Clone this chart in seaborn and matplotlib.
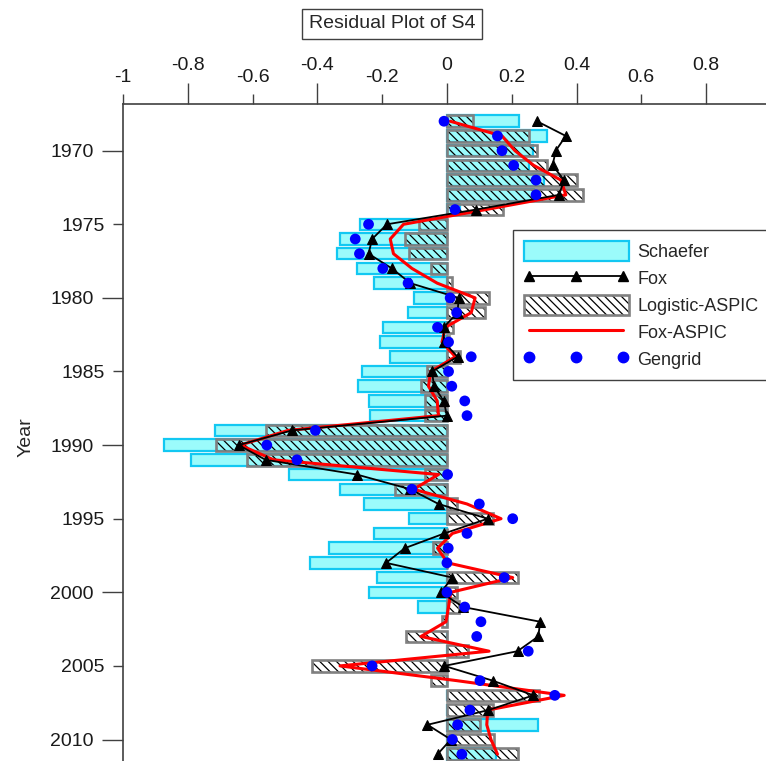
import matplotlib
matplotlib.use("Agg")
import matplotlib.pyplot as plt
import seaborn as sns
import numpy as np
import pandas as pd
from matplotlib.patches import Patch
from matplotlib.lines import Line2D
from matplotlib.legend_handler import HandlerTuple

# residuos por ano
anos = [1968, 1969, 1970, 1971, 1972, 1973, 1974, 1975, 1976, 1977, 1978,
        1979, 1980, 1981, 1982, 1983, 1984, 1985, 1986, 1987, 1988, 1989,
        1990, 1991, 1992, 1993, 1994, 1995, 1996, 1997, 1998, 1999, 2000,
        2001, 2002, 2003, 2004, 2005, 2006, 2007, 2008, 2009, 2010, 2011]

schaefer = [0.223, 0.309, 0.265, 0.254, 0.300, 0.270, 0.040, -0.267, -0.329, -0.340, -0.278,
            -0.226, -0.103, -0.120, -0.198, -0.206, -0.175, -0.262, -0.273, -0.242, -0.237, -0.715,
            -0.872, -0.790, -0.486, -0.331, -0.257, -0.117, -0.226, -0.365, -0.422, -0.216, -0.242,
            -0.090, 0.0, 0.0, 0.0, 0.0, 0.0, 0.0, 0.0, 0.280, 0.0, 0.151]

fox = [0.278, 0.367, 0.336, 0.326, 0.362, 0.346, 0.090, -0.185, -0.231, -0.242, -0.170,
       -0.113, 0.036, 0.033, -0.010, -0.010, 0.033, -0.046, -0.040, -0.010, 0.000, -0.478,
       -0.643, -0.560, -0.278, -0.113, -0.026, 0.126, -0.008, -0.130, -0.188, 0.017, -0.019,
       0.050, 0.288, 0.282, 0.218, -0.008, 0.141, 0.267, 0.128, -0.060, 0.012, -0.029]

logistic_aspic = [0.079, 0.254, 0.278, 0.310, 0.401, 0.419, 0.172, -0.087, -0.129, -0.118, -0.048,
                  0.015, 0.129, 0.118, 0.018, 0.005, 0.041, -0.062, -0.080, -0.067, -0.067, -0.560,
                  -0.712, -0.617, -0.067, -0.160, 0.031, 0.141, 0.0, -0.044, 0.0, 0.218, 0.031,
                  0.038, -0.015, -0.126, 0.066, -0.415, -0.049, 0.285, 0.141, 0.103, 0.144, 0.218]

fox_aspic = [0.010, 0.170, 0.210, 0.268, 0.352, 0.367, 0.120, -0.134, -0.175, -0.165, -0.108,
             -0.030, 0.087, 0.075, -0.005, -0.015, 0.026, -0.050, -0.057, -0.030, -0.026, -0.490,
             -0.638, -0.535, -0.026, -0.103, 0.062, 0.167, 0.017, -0.029, 0.002, 0.203, 0.012,
             0.005, -0.003, -0.080, 0.130, -0.330, 0.030, 0.362, 0.126, 0.123, 0.136, 0.156]

gengrid = [-0.009, 0.156, 0.170, 0.206, 0.275, 0.275, 0.025, -0.242, -0.283, -0.270, -0.198,
           -0.120, 0.010, 0.030, -0.029, 0.005, 0.075, 0.005, 0.015, 0.055, 0.062, -0.406,
           -0.556, -0.463, 0.002, -0.108, 0.100, 0.203, 0.062, 0.004, 0.000, 0.177, 0.000,
           0.055, 0.105, 0.092, 0.251, -0.231, 0.102, 0.333, 0.071, 0.033, 0.017, 0.046]

df = pd.DataFrame({"ano": anos, "schaefer": schaefer, "fox": fox,
                   "logistic": logistic_aspic, "fox_aspic": fox_aspic, "gengrid": gengrid})

sns.set_theme(style="ticks")
plt.rcParams["font.family"] = ["Liberation Sans", "DejaVu Sans"]
plt.rcParams["hatch.linewidth"] = 0.9

CIANO = "#9BFBFB"
CIANO_BORDA = "#12C8F2"
CINZA = "#808080"
EIXO = "#404040"
HACHURA = "\\" * 4

fig = plt.figure(figsize=(7.66, 7.61), dpi=100)
ax = fig.add_axes([123 / 766, 0.0, 643 / 766, 0.8639])

# Schaefer (barras ciano)
n0 = len(ax.patches)
sns.barplot(data=df, x="schaefer", y="ano", orient="y", native_scale=True,
            width=0.78, errorbar=None, color=CIANO, ax=ax)
for p in ax.patches[n0:]:
    p.set_facecolor(CIANO)
    p.set_edgecolor(CIANO_BORDA)
    p.set_linewidth(1.6)
    p.set_zorder(1)

# Logistic-ASPIC: hachura preta + contorno cinza
n0 = len(ax.patches)
sns.barplot(data=df, x="logistic", y="ano", orient="y", native_scale=True,
            width=0.78, errorbar=None, color="k", ax=ax)
for p in ax.patches[n0:]:
    p.set_facecolor("none")
    p.set_edgecolor("black")
    p.set_hatch(HACHURA)
    p.set_linewidth(0)
    p.set_zorder(1.5)
n0 = len(ax.patches)
sns.barplot(data=df, x="logistic", y="ano", orient="y", native_scale=True,
            width=0.78, errorbar=None, color=CINZA, ax=ax)
for p in ax.patches[n0:]:
    p.set_facecolor("none")
    p.set_edgecolor(CINZA)
    p.set_linewidth(1.9)
    p.set_zorder(1.6)

# linhas e pontos
sns.lineplot(data=df, x="fox_aspic", y="ano", orient="y", sort=False, estimator=None,
             color="#FF0000", linewidth=2.2, ax=ax, zorder=3)
sns.lineplot(data=df, x="fox", y="ano", orient="y", sort=False, estimator=None,
             color="black", linewidth=1.3, marker="^", markersize=6.5,
             markeredgecolor="black", ax=ax, zorder=3.5)
sns.scatterplot(data=df, x="gengrid", y="ano", color="#0000FF", s=60,
                edgecolor="none", ax=ax, zorder=4)

# eixos
ax.set_xlim(-1, 0.985)
ax.set_ylim(2011.46, 1966.8)
ax.xaxis.tick_top()
ax.set_xlabel("")
ax.set_ylabel("Year", fontsize=14)
ax.yaxis.set_label_coords(-0.138, 0.493)

ax.set_xticks([-0.8, -0.4, 0, 0.4, 0.8], labels=["-0.8", "-0.4", "0", "0.4", "0.8"])
ax.set_xticks([-1, -0.6, -0.2, 0.2, 0.6], labels=["-1", "-0.6", "-0.2", "0.2", "0.6"], minor=True)
ax.set_yticks([1970, 1980, 1990, 2000, 2010], labels=["1970", "1980", "1990", "2000", "2010"])
ax.set_yticks([1975, 1985, 1995, 2005], labels=["1975", "1985", "1995", "2005"], minor=True)

for eixo in ("x", "y"):
    ax.tick_params(axis=eixo, which="major", direction="out", length=15, width=1,
                   color=EIXO, labelsize=14, pad=6, labelcolor="#1a1a1a")
    ax.tick_params(axis=eixo, which="minor", direction="out", length=7, width=1,
                   color=EIXO, labelsize=14, pad=6, labelcolor="#1a1a1a")
ax.tick_params(axis="x", which="both", top=True, bottom=False, labeltop=True, labelbottom=False)

for lado in ("right", "bottom"):
    ax.spines[lado].set_visible(False)
for lado in ("left", "top"):
    ax.spines[lado].set_color(EIXO)
    ax.spines[lado].set_linewidth(1.2)

# legenda
h_schaefer = Patch(facecolor=CIANO, edgecolor=CIANO_BORDA, linewidth=1.6)
h_fox = Line2D([], [], color="black", linewidth=1.3, marker="^", markersize=6.5)
h_log = (Patch(facecolor="none", edgecolor="black", hatch=HACHURA, linewidth=0),
         Patch(facecolor="none", edgecolor=CINZA, linewidth=1.9))
h_foxa = Line2D([], [], color="#FF0000", linewidth=2.2)
h_gen = Line2D([], [], color="#0000FF", linestyle="none", marker="o", markersize=7.5)
leg = ax.legend([h_schaefer, h_fox, h_log, h_foxa, h_gen],
                ["Schaefer", "Fox", "Logistic-ASPIC", "Fox-ASPIC", "Gengrid"],
                handler_map={tuple: HandlerTuple(ndivide=1, pad=0)},
                loc="upper left", bbox_to_anchor=(513 / 766, 1 - 230 / 761),
                bbox_transform=fig.transFigure, borderaxespad=0,
                fontsize=13, numpoints=3, handlelength=5.8, handleheight=1.3,
                handletextpad=0.5, labelspacing=0.4, borderpad=0.6,
                fancybox=False, framealpha=1, edgecolor=EIXO)
leg.get_frame().set_linewidth(1.0)

fig.text(392 / 766, 1 - 24 / 761, "Residual Plot of S4", fontsize=14, ha="center", va="center",
         bbox=dict(boxstyle="square,pad=0.35", facecolor="white", edgecolor=EIXO, linewidth=1))

fig.savefig("out.png", dpi=100)
